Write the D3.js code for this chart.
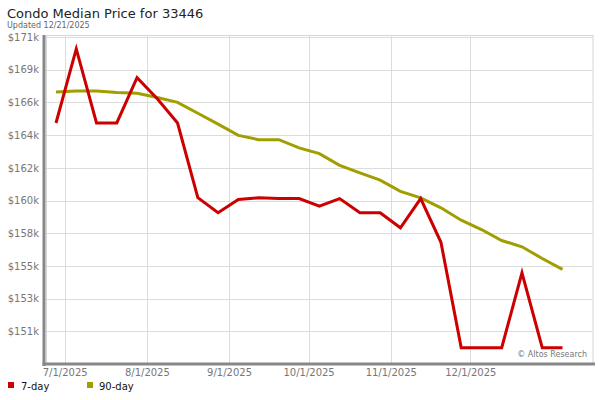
<!DOCTYPE html>
<html><head><meta charset="utf-8">
<script src="https://cdn.jsdelivr.net/npm/d3@7"></script>
<style>
html,body{margin:0;padding:0;background:#fff;}
svg{display:block;font-family:"DejaVu Sans",Verdana,sans-serif;}
</style></head>
<body><svg id="c" width="600" height="400"></svg>
<script>
// ---- data ----
const sevenDay = [165.07,170.15,165.07,165.07,168.17,166.73,165.07,159.96,158.92,159.83,159.94,159.89,159.89,159.37,159.89,158.92,158.92,157.89,159.89,156.90,149.68,149.68,149.68,154.81,149.68,149.68];
const ninetyDay = [167.19,167.26,167.26,167.16,167.10,166.82,166.48,165.74,164.99,164.22,163.93,163.93,163.36,162.97,162.17,161.65,161.15,160.39,159.94,159.26,158.41,157.77,157.02,156.59,155.79,155.04];
const monthTicks = [new Date(2025,6,1),new Date(2025,7,1),new Date(2025,8,1),new Date(2025,9,1),new Date(2025,10,1),new Date(2025,11,1)];
const monthLabels = ["7/1/2025","8/1/2025","9/1/2025","10/1/2025","11/1/2025","12/1/2025"];
const yTickValues = [150.8,153.04,155.28,157.52,159.76,162.0,164.24,166.48,168.72,170.96];
const yTickLabels = ["$151k","$153k","$155k","$158k","$160k","$162k","$164k","$166k","$169k","$171k"];
const seriesNames = ["7-day","90-day"];
const seriesColors = ["#cc0000","#a09e00"];

const svg = d3.select("#c");
const L=45, R=593, T=35, B=364;

const y = d3.scaleLinear().domain([148.56,170.96]).range([B,37]);
const xi = d3.scaleLinear().domain([0,sevenDay.length-1]).range([56,562.5]);
const xt = d3.scaleTime().domain([monthTicks[0],monthTicks[5]]).range([64.7,470.3]);

// frame
svg.append("rect").attr("x",L+1.5).attr("y",T+0.5).attr("width",R-L-1.5).attr("height",B-T)
  .attr("fill","none").attr("stroke","#d6d6d6");

// horizontal grid
svg.append("g").selectAll("line").data(yTickValues).join("line")
  .attr("x1",L).attr("x2",R).attr("y1",d=>Math.round(y(d))+0.5).attr("y2",d=>Math.round(y(d))+0.5)
  .attr("stroke","#dcdcdc");
// vertical grid
svg.append("g").selectAll("line").data(monthTicks).join("line")
  .attr("x1",d=>Math.round(xt(d))+0.5).attr("x2",d=>Math.round(xt(d))+0.5).attr("y1",T).attr("y2",B)
  .attr("stroke","#dcdcdc");

// y axis labels
const yAxis = d3.axisLeft(y).tickValues(yTickValues).tickFormat((d,i)=>yTickLabels[i]).tickSize(0).tickPadding(0);
const gy = svg.append("g").attr("transform",`translate(39,0)`).call(yAxis);
gy.select(".domain").remove();
gy.selectAll("text").attr("fill","#777").style("font-size","10px").style("font-family","'DejaVu Sans',sans-serif");

// x axis labels
const xAxis = d3.axisBottom(xt).tickValues(monthTicks).tickFormat((d,i)=>monthLabels[i]).tickSize(0).tickPadding(0);
const gx = svg.append("g").attr("transform",`translate(0,369)`).call(xAxis);
gx.select(".domain").remove();
gx.selectAll("text").attr("fill","#777").style("font-size","10px").style("font-family","'DejaVu Sans',sans-serif");

// lines
const line = d3.line().x((d,i)=>xi(i)).y(d=>y(d));
[ninetyDay, sevenDay].forEach((s,k)=>{
  const idx = k===0?1:0;
  svg.append("path").datum(s).attr("d",line).attr("fill","none")
    .attr("stroke",seriesColors[idx]).attr("stroke-width",3).attr("stroke-linejoin","miter");
});

// axes lines
svg.append("line").attr("x1",44).attr("x2",44).attr("y1",T).attr("y2",B+2).attr("stroke","#888").attr("stroke-width",3);
svg.append("line").attr("x1",42.5).attr("x2",595).attr("y1",B).attr("y2",B).attr("stroke","#888").attr("stroke-width",3);

// copyright
svg.append("text").attr("x",587).attr("y",357).attr("text-anchor","end").attr("fill","#777")
  .style("font-size","8px").text("© Altos Research");

// titles
svg.append("text").attr("x",7).attr("y",18).attr("fill","#222").style("font-size","13px").text("Condo Median Price for 33446");
svg.append("text").attr("x",7).attr("y",28).attr("fill","#666").style("font-size","8px").text("Updated 12/21/2025");

// legend
const lg = svg.append("g").selectAll("g").data(seriesNames).join("g")
  .attr("transform",(d,i)=>`translate(${i===0?8:87},0)`);
lg.append("rect").attr("x",0).attr("y",382).attr("width",6).attr("height",6).attr("fill",(d,i)=>seriesColors[i]);
lg.append("text").attr("x",(d,i)=>i===0?13:12).attr("y",390).attr("fill","#111").style("font-size","10px").text(d=>d);
</script></body></html>
